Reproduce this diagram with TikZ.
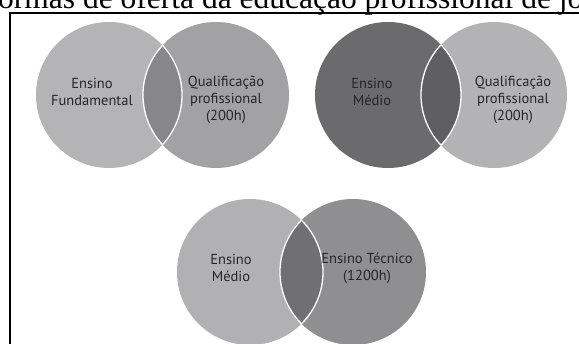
\documentclass[tikz,border=0pt]{standalone}
\usepackage{fontspec}
\setmainfont{PT Sans}
\newfontfamily\titlefont{Liberation Serif}
\definecolor{txt}{HTML}{262626}
\definecolor{tlA}{HTML}{B4B4B6}
\definecolor{tlB}{HTML}{A2A2A4}
\definecolor{tlL}{HTML}{87878A}
\definecolor{trA}{HTML}{6B6B6D}
\definecolor{trB}{HTML}{B3B3B5}
\definecolor{trL}{HTML}{5F5F61}
\definecolor{bA}{HTML}{B1B1B3}
\definecolor{bB}{HTML}{8F8F91}
\definecolor{bL}{HTML}{707072}
\begin{document}
\begin{tikzpicture}[x=1pt,y=-1pt,
  disc/.style={circle,minimum size=146pt,inner sep=0pt,outer sep=0pt},
  lbl/.style={font=\fontsize{14.5}{17}\selectfont,text=txt,align=center,inner sep=0pt},
  rim/.style={draw=white,line width=1.3pt}]
\useasboundingbox (0,0) rectangle (579,344);
% title (cut off at the top of the picture)
\node[anchor=base west,inner sep=0pt,font=\titlefont\fontsize{31.5}{31}\selectfont] (title) at (-2,9) {ormas de oferta da educação profissional de jo};
% frame
\coordinate (fb) at (10,350);
\coordinate (ftl) at (10,13);
\coordinate (fr) at (590,13);
\draw[line width=2.4pt,line cap=rect] (fb) -- (ftl) -- (fr);
% pair 1
\node[disc,fill=tlA] (c1) at (109,95) {};
\node[disc,fill=tlB] (c2) at (216,95) {};
\begin{scope}
  \clip (c1.center) circle[radius=73];
  \fill[tlL] (c2.center) circle[radius=73];
  \draw[rim] (c2.center) circle[radius=73];
\end{scope}
\begin{scope}
  \clip (c2.center) circle[radius=73];
  \draw[rim] (c1.center) circle[radius=73];
\end{scope}
\node[lbl] (t1) at (92,92) {Ensino\\Fundamental};
\node[lbl] (t2) at (226,100) {Qualificação\\profissional\\(200h)};
% pair 2
\node[disc,fill=trA] (c3) at (388,95) {};
\node[disc,fill=trB] (c4) at (494,95) {};
\begin{scope}
  \clip (c3.center) circle[radius=73];
  \fill[trL] (c4.center) circle[radius=73];
  \draw[rim] (c4.center) circle[radius=73];
\end{scope}
\begin{scope}
  \clip (c4.center) circle[radius=73];
  \draw[rim] (c3.center) circle[radius=73];
\end{scope}
\node[lbl] (t3) at (372,92) {Ensino\\Médio};
\node[lbl] (t4) at (513,100) {Qualificação\\profissional\\(200h)};
% pair 3
\node[disc,fill=bA] (c5) at (250,272) {};
\node[disc,fill=bB] (c6) at (353,272) {};
\begin{scope}
  \clip (c5.center) circle[radius=73];
  \fill[bL] (c6.center) circle[radius=73];
  \draw[rim] (c6.center) circle[radius=73];
\end{scope}
\begin{scope}
  \clip (c6.center) circle[radius=73];
  \draw[rim] (c5.center) circle[radius=73];
\end{scope}
\node[lbl] (t5) at (231,268) {Ensino\\Médio};
\node[lbl] (t6) at (367,268) {Ensino Técnico\\(1200h)};
\end{tikzpicture}
\end{document}
